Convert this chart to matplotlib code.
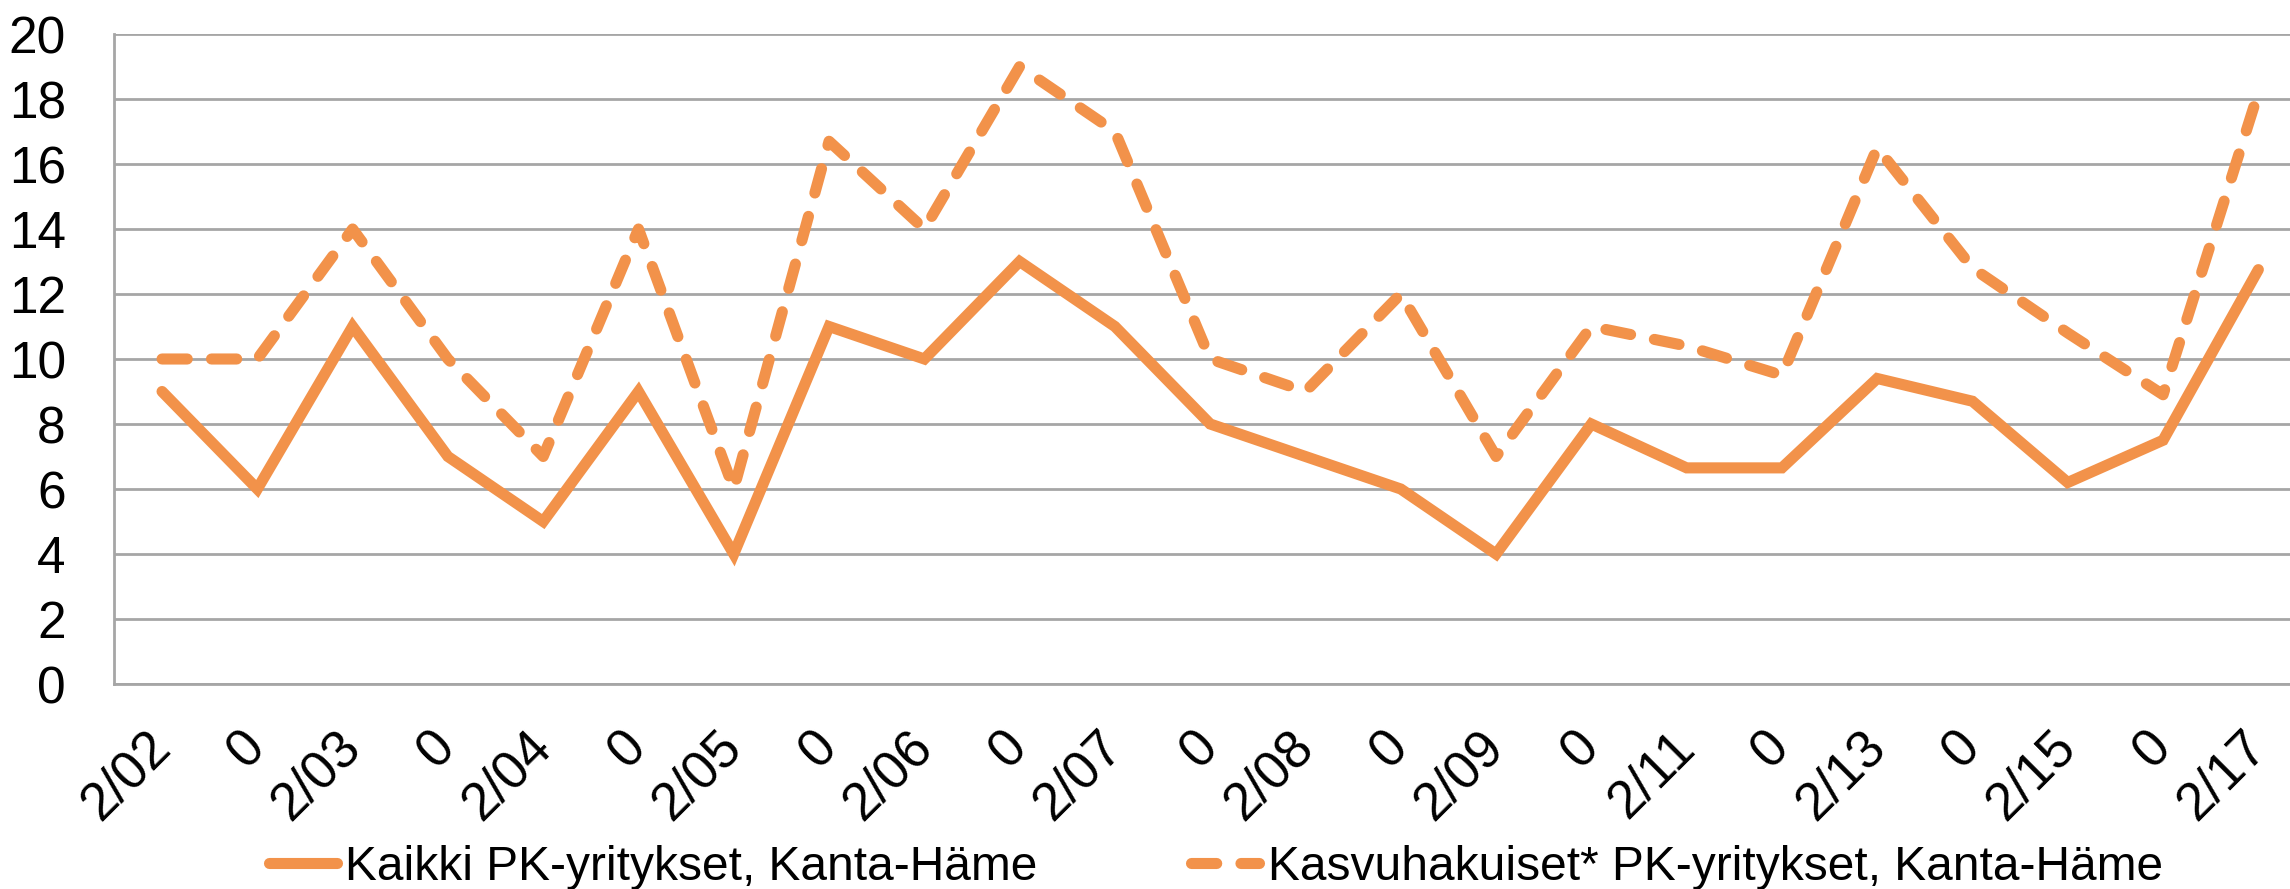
import matplotlib
matplotlib.use("Agg")
import matplotlib.pyplot as plt

categories = ["2/02", "0", "2/03", "0", "2/04", "0", "2/05", "0", "2/06", "0",
              "2/07", "0", "2/08", "0", "2/09", "0", "2/11", "0", "2/13", "0",
              "2/15", "0", "2/17"]
kaikki = [9, 6, 11, 7, 5, 9, 4, 11, 10, 13, 11, 8, 7, 6, 4, 8, 6.65, 6.65,
          9.4, 8.7, 6.2, 7.5, 12.75]
kasvu = [10, 10, 14, 10, 7, 14, 6, 16.7, 14, 19, 17, 10, 9, 12, 7, 11, 10.4,
         9.5, 16.5, 12.8, 10.8, 8.9, 18.2]
yticks = [0, 2, 4, 6, 8, 10, 12, 14, 16, 18, 20]
labels = ["Kaikki PK-yritykset, Kanta-Häme", "Kasvuhakuiset* PK-yritykset, Kanta-Häme"]

color = "#F2924A"
grid_c = "#A6A6A6"
FONT = ["Liberation Sans", "DejaVu Sans"]

W, H = 2290, 889
fig = plt.figure(figsize=(W / 100, H / 100), dpi=100)
left_px, right_px = 114.4, 2306
top_px, bot_px = 34, 684
ax = fig.add_axes([left_px / W, 1 - bot_px / H, (right_px - left_px) / W, (bot_px - top_px) / H])

x = list(range(len(categories)))
LW = 8
l1, = ax.plot(x, kaikki, color=color, lw=LW, solid_joinstyle="miter", solid_capstyle="round",
              label=labels[0])
l2, = ax.plot(x, kasvu, color=color, lw=LW, linestyle=(0, (2.27, 2.18)), dash_capstyle="round",
              dash_joinstyle="round", label=labels[1])

ax.set_xlim(-0.5, len(categories) - 0.5)
ax.set_ylim(0, 20)
ax.set_yticks(yticks)
ax.set_yticklabels([str(v) for v in yticks], fontsize=37, family=FONT)
ax.set_xticks(x)
ax.set_xticklabels(categories, rotation=45, ha="right", va="center", rotation_mode="anchor",
                   fontsize=38, family=FONT)
ax.tick_params(axis="both", length=0)
ax.tick_params(axis="x", pad=40)
ax.tick_params(axis="y", pad=35)
ax.grid(axis="y", color=grid_c, lw=2)
ax.set_axisbelow(True)
for s in ["top", "right"]:
    ax.spines[s].set_visible(False)
ax.spines["left"].set_color(grid_c)
ax.spines["left"].set_linewidth(2)
ax.spines["bottom"].set_color(grid_c)
ax.spines["bottom"].set_linewidth(2)

leg = fig.legend(handles=[l1, l2], loc="center left", bbox_to_anchor=(268.5 / W, 1 - 867 / H),
                 ncol=2, frameon=False, handlelength=1.42, handletextpad=0.18,
                 columnspacing=3.2, borderpad=0, borderaxespad=0,
                 prop={"family": FONT, "size": 34.5})

fig.savefig("out.png", dpi=100)
